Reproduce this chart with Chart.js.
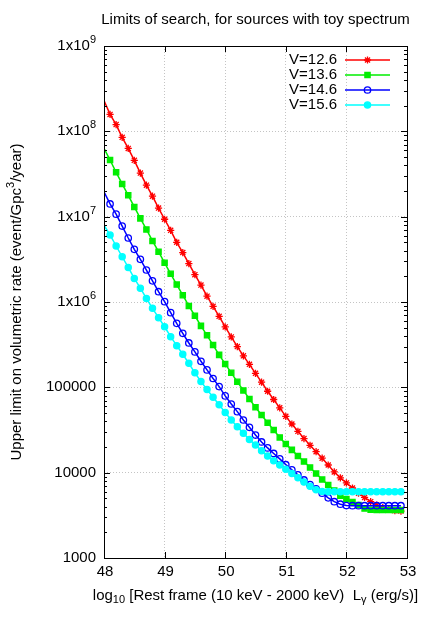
<!DOCTYPE html>
<html>
<head>
<meta charset="utf-8">
<script src="https://cdn.jsdelivr.net/npm/chart.js@4.4.0/dist/chart.umd.min.js"></script>
<style>
  html, body { margin: 0; padding: 0; background: #fff; }
  canvas { display: block; }
</style>
</head>
<body>
<canvas id="chart" width="436" height="623"></canvas>
<script>
// log10 of rest frame luminosity (x)
const lum = [48.0, 48.1, 48.2, 48.3, 48.4, 48.5, 48.6, 48.7, 48.8, 48.9,
             49.0, 49.1, 49.2, 49.3, 49.4, 49.5, 49.6, 49.7, 49.8, 49.9,
             50.0, 50.1, 50.2, 50.3, 50.4, 50.5, 50.6, 50.7, 50.8, 50.9,
             51.0, 51.1, 51.2, 51.3, 51.4, 51.5, 51.6, 51.7, 51.8, 51.9,
             52.0, 52.1, 52.2, 52.3, 52.4, 52.5, 52.6, 52.7, 52.8, 52.9]

// upper limit on rate, one array per V
const rateV126 = [2.3e8, 1.58e8, 1.20e8, 8.5e7, 6.3e7, 4.57e7, 3.24e7, 2.34e7, 1.74e7, 1.26e7,
                  9.33e6, 6.92e6, 5.01e6, 3.80e6, 2.82e6, 2.09e6, 1.58e6, 1.17e6, 8.9e5, 6.8e5,
                  5.1e5, 3.9e5, 3.0e5, 2.34e5, 1.86e5, 1.46e5, 1.15e5, 9.0e4, 7.2e4, 5.75e4,
                  4.57e4, 3.72e4, 3.05e4, 2.51e4, 2.09e4, 1.76e4, 1.48e4, 1.23e4, 1.02e4, 8700,
                  7590, 6610, 5750, 5130, 4570, 4170, 3890, 3720, 3590, 3550]
const rateV136 = [6.3e7, 4.61e7, 3.31e7, 2.42e7, 1.78e7, 1.30e7, 9.55e6, 7.08e6, 5.19e6, 3.89e6,
                  2.88e6, 2.14e6, 1.60e6, 1.20e6, 9.0e5, 6.9e5, 5.25e5, 4.07e5, 3.13e5, 2.40e5,
                  1.88e5, 1.48e5, 1.16e5, 9.2e4, 7.3e4, 5.83e4, 4.74e4, 3.85e4, 3.16e4, 2.59e4,
                  2.17e4, 1.85e4, 1.57e4, 1.35e4, 1.15e4, 9770, 8320, 7160, 6170, 5370,
                  4900, 4520, 4170, 3800, 3670, 3650, 3650, 3650, 3650, 3650]
const rateV146 = [1.95e7, 1.41e7, 1.07e7, 7.76e6, 5.62e6, 4.14e6, 3.16e6, 2.37e6, 1.77e6, 1.32e6,
                  1.01e6, 7.5e5, 5.62e5, 4.30e5, 3.31e5, 2.60e5, 2.02e5, 1.60e5, 1.27e5, 1.02e5,
                  7.94e4, 6.38e4, 5.19e4, 4.14e4, 3.40e4, 2.76e4, 2.29e4, 1.95e4, 1.68e4, 1.45e4,
                  1.24e4, 1.08e4, 9440, 8220, 7240, 6460, 5750, 5070, 4570, 4270,
                  4120, 4100, 4100, 4100, 4100, 4100, 4100, 4100, 4100, 4100]
const rateV156 = [7.94e6, 6.10e6, 4.53e6, 3.39e6, 2.54e6, 1.89e6, 1.45e6, 1.10e6, 8.43e5, 6.55e5,
                  5.13e5, 3.92e5, 3.08e5, 2.44e5, 1.91e5, 1.48e5, 1.17e5, 9.44e4, 7.67e4, 6.24e4,
                  5.07e4, 4.14e4, 3.46e4, 2.89e4, 2.45e4, 2.11e4, 1.81e4, 1.57e4, 1.38e4, 1.23e4,
                  1.10e4, 9770, 8710, 7760, 6920, 6310, 6030, 5980, 5980, 5980,
                  5980, 5980, 5980, 5980, 5980, 5980, 5980, 5980, 5980, 5980]

const seriesLabels = ['V=12.6', 'V=13.6', 'V=14.6', 'V=15.6']
const xTicks = [48, 49, 50, 51, 52, 53]
const yTicks = [1e3, 1e4, 1e5, 1e6, 1e7, 1e8, 1e9]
const yTickText = ['1000', '10000', '100000', '1x10^6', '1x10^7', '1x10^8', '1x10^9']
const titleText = 'Limits of search, for sources with toy spectrum'
const xTitle = 'log_{10} [Rest frame (10 keV - 2000 keV)  L_{γ} (erg/s)]'
const yTitle = 'Upper limit on volumetric rate (event/Gpc^3/year)'

const FONT = '"Liberation Sans", Arial, sans-serif'
const SIZE = 15

const styles = [
  { color: '#ff0000', point: 'star', radius: 3.6, fill: '#ff0000' },
  { color: '#00ee00', point: 'rect', radius: 3.7, fill: '#00ee00' },
  { color: '#0000ff', point: 'circle', radius: 3.2, fill: 'rgba(0,0,0,0)' },
  { color: '#00ffff', point: 'circle', radius: 3.1, fill: '#00ffff' }
]
const allRates = [rateV126, rateV136, rateV146, rateV156]

// split "a^b" / "a_{bc}" into [text, shift] parts
function parseRich(str) {
  const parts = []
  let i = 0, buf = ''
  while (i < str.length) {
    const c = str[i]
    if (c === '^' || c === '_') {
      if (buf) { parts.push([buf, 0]); buf = '' }
      let t
      if (str[i + 1] === '{') {
        const end = str.indexOf('}', i)
        t = str.slice(i + 2, end)
        i = end + 1
      } else {
        t = str[i + 1]
        i += 2
      }
      parts.push([t, c === '^' ? 1 : -1])
    } else {
      buf += c
      i++
    }
  }
  if (buf) parts.push([buf, 0])
  return parts
}

function drawRich(ctx, str, x, y, align) {
  const parts = parseRich(str)
  const small = Math.round(SIZE * 0.75)
  let w = 0
  parts.forEach(p => {
    ctx.font = (p[1] ? small : SIZE) + 'px ' + FONT
    p.push(ctx.measureText(p[0]).width)
    w += p[2]
  })
  let cx = align === 'right' ? x - w : align === 'center' ? x - w / 2 : x
  ctx.textAlign = 'left'
  ctx.textBaseline = 'middle'
  parts.forEach(p => {
    ctx.font = (p[1] ? small : SIZE) + 'px ' + FONT
    const dy = p[1] === 1 ? -6 : p[1] === -1 ? 4 : 0
    ctx.fillText(p[0], cx, y + dy)
    cx += p[2]
  })
}

const decor = {
  id: 'decor',
  afterDraw(chart) {
    const { ctx, chartArea: a, scales: { x, y } } = chart
    ctx.save()
    ctx.strokeStyle = '#000'
    ctx.lineWidth = 1
    ctx.beginPath()
    xTicks.forEach(v => {
      const px = Math.round(x.getPixelForValue(v)) + 0.5
      ctx.moveTo(px, a.bottom); ctx.lineTo(px, a.bottom - 6)
      ctx.moveTo(px, a.top); ctx.lineTo(px, a.top + 6)
    })
    yTicks.forEach(v => {
      for (let k = 1; k <= 9; k++) {
        const val = v * k
        if (val > 1e9) break
        const py = Math.round(y.getPixelForValue(val)) + 0.5
        const len = k === 1 ? 6 : 3
        ctx.moveTo(a.left, py); ctx.lineTo(a.left + len, py)
        ctx.moveTo(a.right, py); ctx.lineTo(a.right - len, py)
      }
    })
    ctx.stroke()
    ctx.strokeRect(Math.round(a.left) + 0.5, Math.round(a.top) + 0.5,
                   Math.round(a.right - a.left), Math.round(a.bottom - a.top))

    ctx.fillStyle = '#000'
    // title
    drawRich(ctx, titleText, (a.left + a.right) / 2, 20, 'center')
    // tick labels
    xTicks.forEach(v => drawRich(ctx, String(v), x.getPixelForValue(v) + 1, 572, 'center'))
    yTicks.forEach((v, i) => drawRich(ctx, yTickText[i], 96, y.getPixelForValue(v), 'right'))
    // axis titles
    drawRich(ctx, xTitle, (a.left + a.right) / 2, 596, 'center')
    ctx.save()
    ctx.translate(17, (a.top + a.bottom) / 2)
    ctx.rotate(-Math.PI / 2)
    drawRich(ctx, yTitle, 0, 0, 'center')
    ctx.restore()

    // key
    seriesLabels.forEach((lab, i) => {
      const ly = 60 + i * 15
      const st = styles[i]
      ctx.fillStyle = '#000'
      drawRich(ctx, lab, 337, ly, 'right')
      ctx.strokeStyle = st.color
      ctx.lineWidth = 1.5
      ctx.beginPath()
      ctx.moveTo(345, ly); ctx.lineTo(390, ly)
      ctx.stroke()
      ctx.fillStyle = st.fill
      ctx.lineWidth = 1.3
      Chart.helpers.drawPoint(ctx, { pointStyle: st.point, radius: st.radius, rotation: 0, borderWidth: 1.3 }, 367.5, ly)
    })
    ctx.restore()
  }
}

const datasets = allRates.map((rates, i) => ({
  label: seriesLabels[i],
  data: lum.map((v, j) => ({ x: v, y: rates[j] })),
  borderColor: styles[i].color,
  borderWidth: 1.5,
  pointStyle: styles[i].point,
  pointRadius: c => (c.dataIndex === 0 ? 0 : styles[i].radius),
  pointBorderColor: styles[i].color,
  pointBackgroundColor: styles[i].fill,
  pointBorderWidth: 1.3,
  tension: 0,
  fill: false,
  order: 3 - i
}))

new Chart(document.getElementById('chart'), {
  type: 'line',
  data: { datasets },
  options: {
    responsive: false,
    animation: false,
    devicePixelRatio: 1,
    layout: { padding: { left: 104, top: 46, right: 29, bottom: 65 } },
    plugins: { legend: { display: false }, tooltip: { enabled: false } },
    scales: {
      x: {
        type: 'linear', min: 48, max: 53,
        afterBuildTicks: s => { s.ticks = xTicks.map(v => ({ value: v })) },
        ticks: { display: false },
        grid: { color: '#c4c4c4', lineWidth: 1, drawTicks: false },
        border: { display: false, dash: [1, 2] }
      },
      y: {
        type: 'logarithmic', min: 1e3, max: 1e9,
        afterBuildTicks: s => { s.ticks = yTicks.map(v => ({ value: v })) },
        ticks: { display: false },
        grid: { color: '#c4c4c4', lineWidth: 1, drawTicks: false },
        border: { display: false, dash: [1, 2] }
      }
    }
  },
  plugins: [decor]
})
</script>
</body>
</html>
